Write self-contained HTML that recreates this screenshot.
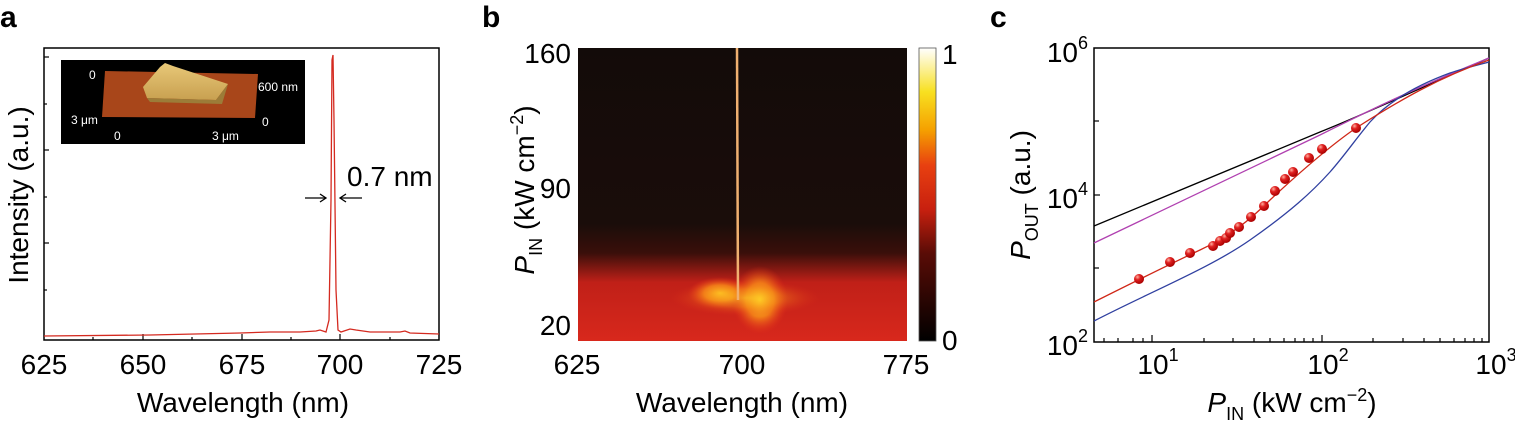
<!DOCTYPE html>
<html><head><style>body{margin:0;background:#fff}svg{display:block}text{font-family:"Liberation Sans",sans-serif}</style></head><body>
<svg width="1515" height="427" viewBox="0 0 1515 427">
<defs>
<linearGradient id="cb" x1="0" y1="1" x2="0" y2="0">
<stop offset="0" stop-color="#000"/><stop offset="0.3" stop-color="#5a0c06"/><stop offset="0.45" stop-color="#c8200f"/><stop offset="0.6" stop-color="#e84010"/><stop offset="0.72" stop-color="#f5a000"/><stop offset="0.85" stop-color="#f8e020"/><stop offset="1" stop-color="#fff"/></linearGradient>
<linearGradient id="bandv" x1="0" y1="0" x2="0" y2="1">
<stop offset="0" stop-color="#130b09"/><stop offset="0.6" stop-color="#1a0d0a"/><stop offset="0.7" stop-color="#3a0f0a"/><stop offset="0.8" stop-color="#c02018"/><stop offset="1" stop-color="#d8281c"/></linearGradient>
<radialGradient id="blob" cx="0.5" cy="0.5" r="0.5"><stop offset="0" stop-color="#ffd828"/><stop offset="0.5" stop-color="#f89018" stop-opacity="0.85"/><stop offset="1" stop-color="#e83018" stop-opacity="0"/></radialGradient>
<radialGradient id="sph" cx="0.35" cy="0.3" r="0.7"><stop offset="0" stop-color="#ffb0a0"/><stop offset="0.4" stop-color="#e02020"/><stop offset="1" stop-color="#a00"/></radialGradient>
<linearGradient id="slab" x1="0" y1="0" x2="0" y2="1"><stop offset="0" stop-color="#e8c878"/><stop offset="1" stop-color="#c8a050"/></linearGradient>
</defs>
<!-- panel a -->
<text x="0" y="27" font-size="30" font-weight="bold">a</text>
<rect x="44" y="48" width="395" height="292" fill="none" stroke="#000" stroke-width="1.5"/>
<g stroke="#000" stroke-width="1.2">
<line x1="44" y1="57" x2="49" y2="57"/><line x1="44" y1="104" x2="47" y2="104"/><line x1="44" y1="150" x2="49" y2="150"/><line x1="44" y1="197" x2="47" y2="197"/><line x1="44" y1="243" x2="49" y2="243"/><line x1="44" y1="290" x2="47" y2="290"/>
<line x1="143" y1="340" x2="143" y2="334"/><line x1="242" y1="340" x2="242" y2="334"/><line x1="340" y1="340" x2="340" y2="334"/>
<line x1="93" y1="340" x2="93" y2="337"/><line x1="192" y1="340" x2="192" y2="337"/><line x1="291" y1="340" x2="291" y2="337"/><line x1="390" y1="340" x2="390" y2="337"/>
</g>
<g font-size="28" text-anchor="middle"><text x="44" y="374">625</text><text x="143" y="374">650</text><text x="242" y="374">675</text><text x="340" y="374">700</text><text x="439" y="374">725</text></g>
<text x="243" y="412" font-size="28" text-anchor="middle">Wavelength (nm)</text>
<text transform="translate(28,195) rotate(-90)" font-size="28" text-anchor="middle">Intensity (a.u.)</text>
<polyline fill="none" stroke="#d42a20" stroke-width="1.3" points="44,336 150,335 240,333 270,332 300,332 316,331 320,330 326,332 329,320 331,200 332,60 333,55 334,120 336,290 338,330 341,332 350,329 356,330 370,332 400,332 405,331 410,333 439,334"/>
<g stroke="#000" stroke-width="1.3" fill="none"><line x1="305" y1="198" x2="326" y2="198"/><polyline points="320,194 326,198 320,202"/><line x1="340" y1="198" x2="362" y2="198"/><polyline points="346,194 340,198 346,202"/></g>
<text x="347" y="186" font-size="28">0.7 nm</text>
<rect x="61" y="60" width="244" height="84" fill="#000"/>
<polygon points="105,71 258,74 255,118 102,117" fill="#a8461a"/>
<polygon points="143,87 160,67 165,63 173,66 228,84 216,100 147,98" fill="url(#slab)"/>
<polygon points="147,98 216,100 228,84 222,104 150,102" fill="#9c7c38"/>
<g fill="#fff" font-size="12"><text x="89" y="79">0</text><text x="71" y="124">3 μm</text><text x="114" y="140">0</text><text x="258" y="91">600 nm</text><text x="262" y="126">0</text><text x="212" y="140">3 μm</text></g>
<!-- panel b -->
<text x="482" y="27" font-size="30" font-weight="bold">b</text>
<rect x="578" y="48" width="329" height="293" fill="url(#bandv)"/>
<ellipse cx="720" cy="293" rx="32" ry="16" fill="url(#blob)"/>
<ellipse cx="760" cy="300" rx="28" ry="34" fill="url(#blob)"/>
<ellipse cx="745" cy="298" rx="75" ry="18" fill="url(#blob)" opacity="0.5"/>
<line x1="737" y1="48" x2="738" y2="300" stroke="#f0b070" stroke-width="2.5"/>
<rect x="919" y="48" width="17" height="293" fill="url(#cb)" stroke="#555" stroke-width="0.8"/>
<g font-size="28"><text x="942" y="64">1</text><text x="942" y="350">0</text></g>
<g font-size="28" text-anchor="end"><text x="571" y="63">160</text><text x="571" y="198">90</text><text x="571" y="335">20</text></g>
<g font-size="28" text-anchor="middle"><text x="577" y="374">625</text><text x="742" y="374">700</text><text x="906" y="374">775</text></g>
<text x="742" y="412" font-size="28" text-anchor="middle">Wavelength (nm)</text>
<g transform="translate(534,190) rotate(-90)" font-size="28" text-anchor="middle"><text x="0" y="0"><tspan font-style="italic">P</tspan><tspan font-size="18" dy="8">IN</tspan><tspan dy="-8"> (kW cm</tspan><tspan font-size="18" dy="-11">−2</tspan><tspan dy="11">)</tspan></text></g>
<!-- panel c -->
<text x="990" y="27" font-size="30" font-weight="bold">c</text>
<rect x="1094" y="48" width="395" height="294" fill="none" stroke="#000" stroke-width="1.5"/>
<g stroke="#000" stroke-width="1.2">
<line x1="1152" y1="342" x2="1152" y2="335"/><line x1="1322" y1="342" x2="1322" y2="335"/>
<line x1="1094" y1="121" x2="1099" y2="121"/><line x1="1094" y1="195" x2="1100" y2="195"/><line x1="1094" y1="268" x2="1099" y2="268"/>
<line x1="1204" y1="342" x2="1204" y2="338"/><line x1="1233" y1="342" x2="1233" y2="338"/><line x1="1254" y1="342" x2="1254" y2="338"/><line x1="1270" y1="342" x2="1270" y2="338"/><line x1="1284" y1="342" x2="1284" y2="338"/><line x1="1295" y1="342" x2="1295" y2="338"/><line x1="1304" y1="342" x2="1304" y2="338"/><line x1="1313" y1="342" x2="1313" y2="338"/>
<line x1="1373" y1="342" x2="1373" y2="338"/><line x1="1403" y1="342" x2="1403" y2="338"/><line x1="1424" y1="342" x2="1424" y2="338"/><line x1="1440" y1="342" x2="1440" y2="338"/><line x1="1454" y1="342" x2="1454" y2="338"/><line x1="1465" y1="342" x2="1465" y2="338"/><line x1="1474" y1="342" x2="1474" y2="338"/><line x1="1482" y1="342" x2="1482" y2="338"/>
<line x1="1118" y1="342" x2="1118" y2="338"/><line x1="1133" y1="342" x2="1133" y2="338"/><line x1="1143" y1="342" x2="1143" y2="338"/><line x1="1104" y1="342" x2="1104" y2="338"/>
</g>
<g font-size="28" text-anchor="end"><text x="1088" y="62">10<tspan font-size="18" dy="-13">6</tspan></text><text x="1088" y="208">10<tspan font-size="18" dy="-13">4</tspan></text><text x="1088" y="355">10<tspan font-size="18" dy="-13">2</tspan></text></g>
<g font-size="28" text-anchor="middle"><text x="1158" y="374">10<tspan font-size="18" dy="-13">1</tspan></text><text x="1328" y="374">10<tspan font-size="18" dy="-13">2</tspan></text><text x="1496" y="374">10<tspan font-size="18" dy="-13">3</tspan></text></g>
<text x="1292" y="412" font-size="28" text-anchor="middle"><tspan font-style="italic">P</tspan><tspan font-size="18" dy="8">IN</tspan><tspan dy="-8"> (kW cm</tspan><tspan font-size="18" dy="-11">−2</tspan><tspan dy="11">)</tspan></text>
<g transform="translate(1030,195) rotate(-90)" font-size="28" text-anchor="middle"><text><tspan font-style="italic">P</tspan><tspan font-size="18" dy="8">OUT</tspan><tspan dy="-8"> (a.u.)</tspan></text></g>
<g fill="none" stroke-width="1.3">
<path d="M1094,226 L1320,132 C1370,112 1420,88 1489,58" stroke="#000"/>
<path d="M1094,243 L1320,135 C1370,110 1420,86 1489,58" stroke="#b040b0"/>
<path d="M1094,321 C1150,292 1210,268 1250,240 C1290,212 1312,192 1330,172 C1345,155 1355,140 1370,122 C1390,100 1420,84 1450,73 C1465,68 1478,65 1489,62" stroke="#3040a0"/>
<path d="M1094,302 C1130,284 1170,264 1200,250 C1230,236 1250,220 1270,200 C1300,172 1330,146 1356,128 C1400,100 1440,77 1489,60" stroke="#d02818"/>
</g>
<g fill="url(#sph)">
<circle cx="1139" cy="279" r="5"/><circle cx="1170" cy="262" r="5"/><circle cx="1190" cy="253" r="5"/><circle cx="1213" cy="246" r="5"/><circle cx="1220" cy="241" r="5"/><circle cx="1226" cy="238" r="5"/><circle cx="1230" cy="233" r="5"/><circle cx="1239" cy="227" r="5"/><circle cx="1251" cy="217" r="5"/><circle cx="1264" cy="206" r="5"/><circle cx="1275" cy="191" r="5"/><circle cx="1285" cy="179" r="5"/><circle cx="1293" cy="172" r="5"/><circle cx="1309" cy="158" r="5"/><circle cx="1322" cy="149" r="5"/><circle cx="1356" cy="128" r="5"/>
</g>
</svg>
</body></html>
